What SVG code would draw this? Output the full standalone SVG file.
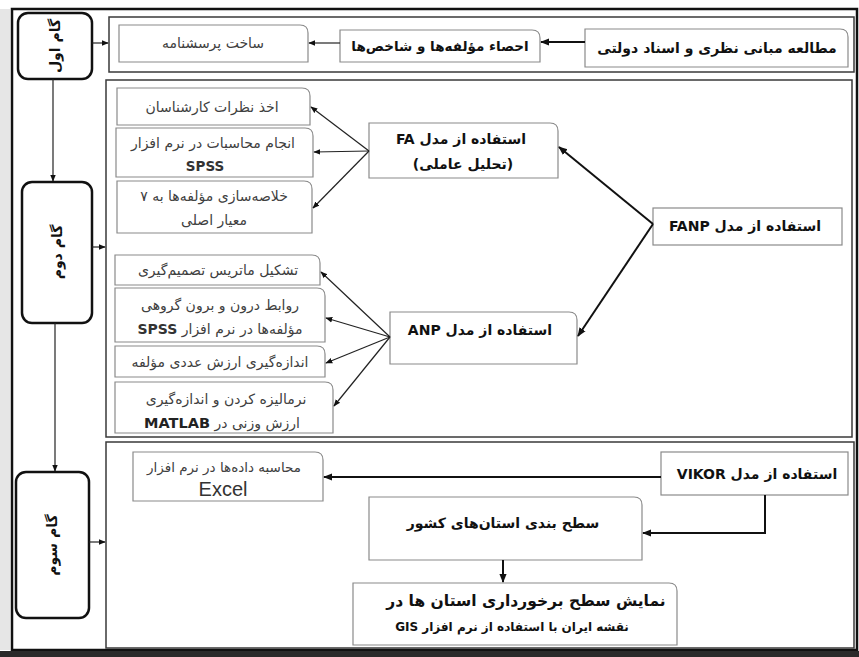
<svg xmlns="http://www.w3.org/2000/svg" width="859" height="657" viewBox="0 0 859 657">
<defs>
<marker id="ah" viewBox="0 0 10 10" refX="9" refY="5" markerWidth="7" markerHeight="7" markerUnits="userSpaceOnUse" orient="auto">
<path d="M0 1 L10 5 L0 9 Z" fill="#111"/>
</marker>
<marker id="ahb" viewBox="0 0 10 10" refX="9" refY="5" markerWidth="9" markerHeight="9" markerUnits="userSpaceOnUse" orient="auto">
<path d="M0 1 L10 5 L0 9 Z" fill="#111"/>
</marker>
<style>
text{font-family:"DejaVu Sans","Noto Sans",sans-serif;text-anchor:middle;direction:rtl;}
.b{font-weight:bold;font-size:14px;fill:#111;}
.l{font-size:14px;fill:#404040;}
.node{fill:#fff;stroke:#8a8a8a;stroke-width:1.2;}
.step{fill:#fff;stroke:#111;stroke-width:2.5;}
.sec{fill:none;stroke:#3a3a3a;stroke-width:1.5;}
.c{fill:none;stroke:#222;stroke-width:1.2;marker-end:url(#ah);}
.ct{fill:none;stroke:#111;stroke-width:2;marker-end:url(#ahb);}
.st{font-weight:bold;font-size:14px;fill:#111;}
</style>
</defs>
<rect width="859" height="657" fill="#fff"/>
<rect x="0" y="9" width="10" height="641" fill="#e6e6e6"/>
<rect x="12" y="9" width="845" height="641" fill="none" stroke="#111" stroke-width="2.5"/>
<rect x="0" y="651" width="859" height="6" fill="#2a2a2a"/>
<g id="sections">
<rect class="sec" x="109" y="17" width="745" height="55"/>
<rect class="sec" x="106" y="80" width="746" height="357"/>
<rect class="sec" x="106" y="442" width="748" height="206"/>
</g>
<g id="step1"><rect class="step" x="18" y="13" width="74" height="66" rx="10"/><text class="st" transform="translate(60,46) rotate(-90)">گام اول</text></g>
<g id="step2"><rect class="step" x="22" y="182" width="70" height="141" rx="10"/><text class="st" transform="translate(62,252) rotate(-90)">گام دوم</text></g>
<g id="step3"><rect class="step" x="16" y="472" width="73" height="146" rx="10"/><text class="st" transform="translate(57,545) rotate(-90)">گام سوم</text></g>
<g id="n-motaleh"><path class="node" d="M585 29 H840 Q848 29 848 37 V67 H585 Z"/><text class="b" x="717" y="53">مطالعه مبانی نظری و اسناد دولتی</text></g>
<g id="n-ehsa"><path class="node" d="M340 30 H532 Q540 30 540 38 V62 H340 Z"/><text class="b" x="440" y="51" style="font-size:13.5px">احصاء مؤلفه‌ها و شاخص‌ها</text></g>
<g id="n-sakht"><path class="node" d="M119 25 H300 Q308 25 308 33 V62 H119 Z"/><text class="l" x="213" y="48">ساخت پرسشنامه</text></g>
<g id="n-akhz"><path class="node" d="M117 88 H302 Q310 88 310 96 V125 H117 Z"/><text class="l" x="212" y="112">اخذ نظرات کارشناسان</text></g>
<g id="n-anjam"><path class="node" d="M116 128 H305 Q313 128 313 136 V177 H116 Z"/><text class="l" x="213" y="148">انجام محاسبات در نرم افزار</text><text class="b" x="205" y="171" style="font-size:13.5px;fill:#333">SPSS</text></g>
<g id="n-kholaseh"><path class="node" d="M117 181 H304 Q312 181 312 189 V233 H117 Z"/><text class="l" x="214" y="201">خلاصه‌سازی مؤلفه‌ها به ۷</text><text class="l" x="214" y="225">معیار اصلی</text></g>
<g id="n-fa"><path class="node" d="M369 123 H550 Q558 123 558 131 V178 H369 Z"/><text class="b" x="461" y="144">استفاده از مدل FA</text><text class="b" x="463" y="169">(تحلیل عاملی)</text></g>
<g id="n-fanp"><rect class="node" x="653" y="208" width="189" height="37"/><text class="b" x="745" y="231">استفاده از مدل FANP</text></g>
<g id="n-tashkil"><path class="node" d="M115 255 H312 Q320 255 320 263 V285 H115 Z"/><text class="l" x="218" y="275">تشکیل ماتریس تصمیم‌گیری</text></g>
<g id="n-ravabet"><path class="node" d="M115 288 H317 Q325 288 325 296 V342 H115 Z"/><text class="l" x="220" y="310">روابط درون و برون گروهی</text><text class="l" x="220" y="334">مؤلفه‌ها در نرم افزار <tspan style="font-weight:bold;font-size:14px;fill:#333">SPSS</tspan></text></g>
<g id="n-andazeh"><path class="node" d="M115 346 H317 Q325 346 325 354 V377 H115 Z"/><text class="l" x="220" y="367">اندازه‌گیری ارزش عددی مؤلفه</text></g>
<g id="n-normal"><path class="node" d="M115 382 H325 Q333 382 333 390 V433 H115 Z"/><text class="l" x="226" y="404">نرمالیزه کردن و اندازه‌گیری</text><text class="l" x="222" y="428">ارزش وزنی در <tspan style="font-weight:bold;font-size:14.5px;fill:#222">MATLAB</tspan></text></g>
<g id="n-anp"><path class="node" d="M390 312 H569 Q577 312 577 320 V364 H390 Z"/><text class="b" x="480" y="335">استفاده از مدل ANP</text></g>
<g id="n-vikor"><rect class="node" x="661" y="452" width="187" height="43"/><text class="b" x="757" y="479">استفاده از مدل VIKOR</text></g>
<g id="n-excel"><path class="node" d="M133 452 H315 Q323 452 323 460 V501 H133 Z"/><text class="l" x="224" y="472" style="font-size:13.5px">محاسبه داده‌ها در نرم افزار</text><text x="223" y="496" style="font-family:'Liberation Sans',sans-serif;font-size:20px;fill:#333;direction:ltr">Excel</text></g>
<g id="n-sath"><path class="node" d="M369 497 H634 Q642 497 642 505 V560 H369 Z"/><text class="b" x="503" y="528">سطح بندی استان‌های کشور</text></g>
<g id="n-namayesh"><path class="node" d="M353 583 H669 Q677 583 677 591 V645 H353 Z"/><text class="b" x="526" y="606" style="font-size:15.5px">نمایش سطح برخورداری استان ها در</text><text class="b" x="512" y="631" style="font-size:12px">نقشه ایران با استفاده از نرم افزار GIS</text></g>
<g id="connectors">
<line class="c" x1="53" y1="79" x2="53" y2="181"/>
<line class="c" x1="55" y1="323" x2="55" y2="471"/>
<line class="c" x1="92" y1="43" x2="108" y2="43"/>
<line class="c" x1="92" y1="247" x2="105" y2="247"/>
<line class="c" x1="89" y1="542" x2="105" y2="542"/>
<line class="ct" x1="585" y1="42" x2="541" y2="42"/>
<line class="c" x1="340" y1="43" x2="309" y2="43"/>
<line class="c" x1="369" y1="151" x2="311" y2="107"/>
<line class="c" x1="369" y1="151" x2="314" y2="152"/>
<line class="c" x1="369" y1="151" x2="313" y2="208"/>
<line class="c" x1="390" y1="337" x2="321" y2="272"/>
<line class="c" x1="390" y1="337" x2="326" y2="318"/>
<line class="c" x1="390" y1="337" x2="326" y2="363"/>
<line class="c" x1="390" y1="337" x2="334" y2="406"/>
<line class="ct" x1="653" y1="224" x2="559" y2="147"/>
<line class="ct" x1="653" y1="224" x2="578" y2="336"/>
<line class="ct" x1="661" y1="477" x2="324" y2="477"/>
<polyline class="ct" points="765,495 765,533 643,533"/>
<line class="ct" x1="503" y1="560" x2="503" y2="582"/>
</g>
</svg>
